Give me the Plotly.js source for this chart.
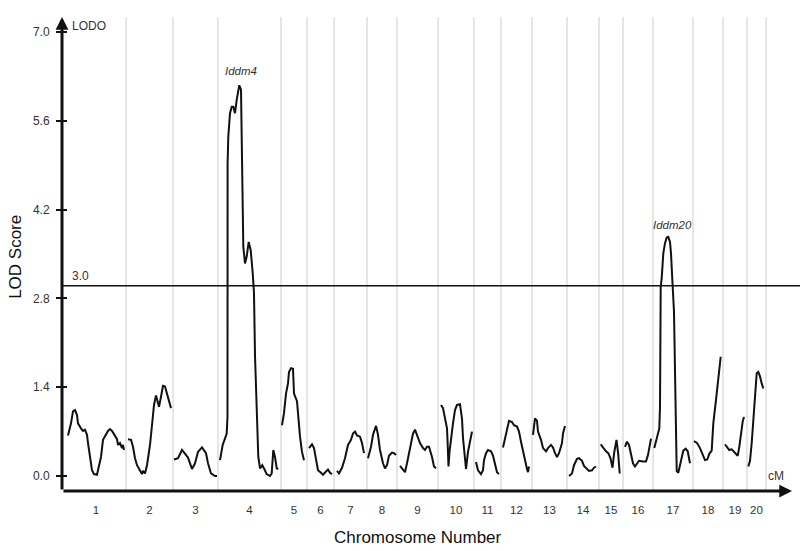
<!DOCTYPE html>
<html>
<head>
<meta charset="utf-8">
<script src="https://cdn.plot.ly/plotly-3.0.1.min.js"></script>
<style>
  body { margin: 0; background: #fff; }
  #graph { width: 800px; height: 551px; }
</style>
</head>
<body>
<div id="graph"></div>
<script>
// chromosome names and lengths (cM, as drawn)
var chromosomes = ['1','2','3','4','5','6','7','8','9','10','11','12','13','14','15','16','17','18','19','20'];
var chromLengths = [60, 47, 45, 63, 26, 27, 33, 30, 41, 36, 27, 31, 35, 32, 24, 30, 40, 30, 24, 19];

// positions (cM from chromosome start) and LOD scores, one list per chromosome
var positions = [
    [2,5,7,9,11,12,15,17,19,21,22,24,26,28,31,32,35,37,40,42,44,46,48,51,52,54,56,57,58],
    [2,5,7,9,11,14,16,17,19,21,24,26,28,30,32,33,35,37,39,41,43,45],
    [1,5,9,12,15,17,19,22,25,29,33,35,38,42,44],
    [2,4.7,8.7,9.5,9.6,10.3,12,13.7,15.3,17,18.7,21.3,23,23.7,24.3,25.3,27,28.7,30.7,32.7,34.7,36,37,38,39.7,40.3,42,44.3,46.3,48.7,52,53.7,55.3,57,58.7,60.3],
    [1,3,5,7,8,10,12,13,16,17,19,21,23],
    [2,5,7,9,11,14,16,19,21,23,25],
    [3,5,8,11,14,17,19,21,23,26,28,30],
    [1,4,6,9,11,13,16,18,20,22,25,27,29],
    [3,6,8,10,13,16,18,20,23,26,28,30,32,35,37,39],
    [3,5,7,9,9.5,10.5,11.5,13,15,17,19,22,24,25,27,28,30,33,34],
    [2,4,7,9,10,12,14,17,19,21,23,25],
    [2,4,6,8,11,13,16,18,20,22,24,26,27,28],
    [1,3,5,6,9,11,14,16,19,21,23,25,27,30,31,33],
    [2,5,7,10,12,15,17,20,22,25,27,29],
    [1.7,4.3,7,9.3,11.5,13.5,15.2,17.5,19.2,20.7],
    [2,4,6,8,10,12,14,16,20,23,25,27,28],
    [1.3,3.7,6.3,7,7.3,7.7,8.7,10.3,12,13.7,15.3,17,18,18.7,19.7,21,22,23,23.7,25.3,28,30.3,32.7,34.7,37],
    [1,4,7,9.7,12,14.3,16.3,18.7,20.3,23,25.3,27.7],
    [2,4.3,6.3,8.7,11,13,14.7,16.3,18,19.7,21],
    [1.3,3,4.7,6.3,8,9.7,11.3,13,14.7,16.3]
];

var lodScores = [
    [0.64,0.83,1.02,1.04,0.96,0.83,0.75,0.71,0.73,0.65,0.52,0.30,0.09,0.03,0.02,0.09,0.30,0.57,0.67,0.71,0.74,0.71,0.66,0.58,0.49,0.52,0.44,0.49,0.41],
    [0.58,0.57,0.46,0.28,0.17,0.07,0.03,0.08,0.04,0.17,0.49,0.80,1.12,1.27,1.17,1.09,1.25,1.42,1.41,1.28,1.16,1.07],
    [0.26,0.28,0.41,0.35,0.29,0.20,0.11,0.20,0.38,0.45,0.36,0.20,0.04,0.00,0.00],
    [0.25,0.49,0.67,0.94,4.93,5.35,5.72,5.82,5.82,5.72,5.93,6.16,6.09,5.51,4.46,3.62,3.35,3.46,3.69,3.56,3.20,2.88,1.90,1.36,0.67,0.30,0.12,0.17,0.11,0.03,0.00,0.04,0.41,0.30,0.12,0.11],
    [0.80,0.99,1.30,1.46,1.64,1.70,1.69,1.30,1.18,0.94,0.62,0.38,0.25],
    [0.44,0.50,0.44,0.23,0.09,0.05,0.02,0.07,0.10,0.05,0.03],
    [0.08,0.04,0.13,0.28,0.49,0.57,0.67,0.70,0.64,0.62,0.52,0.36],
    [0.28,0.46,0.65,0.79,0.65,0.41,0.20,0.12,0.17,0.32,0.37,0.36,0.33],
    [0.16,0.09,0.06,0.20,0.46,0.67,0.73,0.65,0.52,0.44,0.41,0.46,0.46,0.30,0.15,0.12],
    [1.12,1.07,0.91,0.75,0.57,0.15,0.38,0.62,0.83,1.04,1.12,1.13,0.90,0.60,0.30,0.11,0.38,0.59,0.70],
    [0.22,0.09,0.03,0.09,0.25,0.36,0.41,0.39,0.32,0.17,0.06,0.03],
    [0.45,0.59,0.78,0.87,0.85,0.80,0.78,0.70,0.54,0.38,0.23,0.11,0.06,0.15],
    [0.65,0.91,0.87,0.70,0.57,0.44,0.39,0.44,0.49,0.45,0.36,0.30,0.36,0.52,0.67,0.79],
    [0.00,0.04,0.17,0.27,0.28,0.24,0.16,0.11,0.08,0.09,0.13,0.15],
    [0.50,0.44,0.39,0.36,0.28,0.13,0.37,0.57,0.35,0.04],
    [0.46,0.54,0.49,0.33,0.20,0.15,0.20,0.24,0.23,0.23,0.33,0.52,0.59],
    [0.44,0.59,0.75,1.09,2.14,2.98,3.12,3.51,3.67,3.76,3.77,3.69,3.51,3.20,2.98,2.59,1.83,0.73,0.08,0.05,0.24,0.40,0.43,0.39,0.20],
    [0.55,0.52,0.44,0.33,0.25,0.26,0.35,0.40,0.83,1.20,1.57,1.88],
    [0.50,0.46,0.41,0.42,0.38,0.36,0.32,0.46,0.70,0.86,0.93],
    [0.15,0.24,0.52,0.85,1.20,1.62,1.64,1.57,1.46,1.38]
];

var yTicks = [0.0, 1.4, 2.8, 4.2, 5.6, 7.0];
var threshold = 3.0;
var peakLabels = ['Iddm4', 'Iddm20'];
var peakChrom = [3, 16];      // index into chromosomes
var peakPos = [23, 19];       // cM within chromosome
var peakLod = [6.38, 3.96];

var xMin = -4, xMax = 726;
var yMin = -0.2365, yMax = 7.236;

// cumulative starts
var starts = [];
var acc = 0;
chromLengths.forEach(function (len) { starts.push(acc); acc += len; });
var boundaries = starts.slice(1).concat([acc]);
var centers = starts.map(function (s, i) { return s + chromLengths[i] / 2; });

var xs = [], ys = [];
positions.forEach(function (pos, i) {
    pos.forEach(function (p, j) {
        xs.push(starts[i] + p);
        ys.push(lodScores[i][j]);
    });
    xs.push(null);
    ys.push(null);
});

var lod_trace = {
    x: xs,
    y: ys,
    type: 'scatter',
    mode: 'lines',
    connectgaps: false,
    line: { color: '#111', width: 2 },
    hoverinfo: 'skip',
    showlegend: false,
};

var tick_trace = {
    x: [],
    y: [],
    yaxis: 'y2',
    type: 'scatter',
    mode: 'lines',
    showlegend: false,
    hoverinfo: 'skip',
};

var labelFont = { family: 'Liberation Sans, Arial, sans-serif', size: 12, color: '#333' };

var annotations = [
    // y axis with arrow
    { x: xMin, y: yMax, ax: xMin, ay: yMin, xref: 'x', yref: 'y', axref: 'x', ayref: 'y',
      text: '', showarrow: true, arrowhead: 2, arrowsize: 0.85, arrowwidth: 3, arrowcolor: '#111' },
    // x axis with arrow
    { x: xMax, y: yMin, ax: xMin, ay: yMin, xref: 'x', yref: 'y', axref: 'x', ayref: 'y',
      text: '', showarrow: true, arrowhead: 2, arrowsize: 0.85, arrowwidth: 3, arrowcolor: '#111' },
    { x: 4, y: 7.09, xref: 'x', yref: 'y', text: 'LODO', showarrow: false,
      xanchor: 'left', yanchor: 'middle', font: labelFont },
    { x: 710, y: 0.0, xref: 'x', yref: 'y', text: 'cM', showarrow: false,
      xanchor: 'center', yanchor: 'middle', font: labelFont },
    { x: 4, y: threshold, xref: 'x', yref: 'y', text: threshold.toFixed(1), showarrow: false,
      xanchor: 'left', yanchor: 'bottom', yshift: 1, font: labelFont },
    { x: -0.063, y: 0.494, xref: 'paper', yref: 'paper', text: 'LOD Score', textangle: -90,
      showarrow: false, xanchor: 'center', yanchor: 'middle',
      font: { family: 'Liberation Sans, Arial, sans-serif', size: 17, color: '#111' } },
    { x: 352, y: -0.099, xref: 'x', yref: 'paper', text: 'Chromosome Number',
      showarrow: false, xanchor: 'center', yanchor: 'middle',
      font: { family: 'Liberation Sans, Arial, sans-serif', size: 17, color: '#111' } },
];

peakLabels.forEach(function (name, i) {
    annotations.push({
        x: starts[peakChrom[i]] + peakPos[i], y: peakLod[i], xref: 'x', yref: 'y',
        text: '<i>' + name + '</i>', showarrow: false, xanchor: 'center', yanchor: 'middle',
        font: { family: 'Liberation Sans, Arial, sans-serif', size: 11.5, color: '#333' },
    });
});

var layout = {
    width: 800,
    height: 551,
    margin: { l: 62, r: 8, t: 17, b: 60 },
    paper_bgcolor: '#fff',
    plot_bgcolor: '#fff',
    font: labelFont,
    xaxis: {
        range: [xMin, xMax],
        tickmode: 'array',
        tickvals: centers,
        ticktext: chromosomes,
        ticks: '',
        showgrid: false,
        zeroline: false,
        showline: false,
        ticklabelstandoff: 10,
        tickfont: { family: 'Liberation Sans, Arial, sans-serif', size: 11.5, color: '#333' },
        minor: {
            tickmode: 'array',
            tickvals: boundaries,
            showgrid: true,
            gridcolor: '#e6e6e6',
            gridwidth: 2,
            ticks: '',
        },
        fixedrange: true,
    },
    yaxis: {
        range: [yMin, yMax],
        tickmode: 'array',
        tickvals: yTicks,
        tickformat: '.1f',
        ticks: 'outside',
        ticklen: 5,
        tickwidth: 2,
        tickcolor: '#111',
        ticklabelstandoff: 4,
        showgrid: false,
        zeroline: false,
        showline: false,
        tickfont: labelFont,
        fixedrange: true,
    },
    yaxis2: {
        overlaying: 'y',
        anchor: 'x',
        side: 'left',
        range: [yMin, yMax],
        tickmode: 'array',
        tickvals: yTicks,
        ticks: 'inside',
        ticklen: 5,
        tickwidth: 2,
        tickcolor: '#111',
        showticklabels: false,
        showgrid: false,
        zeroline: false,
        showline: false,
        fixedrange: true,
    },
    shapes: [
        { type: 'line', xref: 'paper', yref: 'y', x0: 0, x1: 1.011, y0: threshold, y1: threshold,
          line: { color: '#111', width: 1.5 } },
    ],
    annotations: annotations,
};

Plotly.newPlot('graph', [lod_trace, tick_trace], layout, { displayModeBar: false, staticPlot: true });
</script>
</body>
</html>
